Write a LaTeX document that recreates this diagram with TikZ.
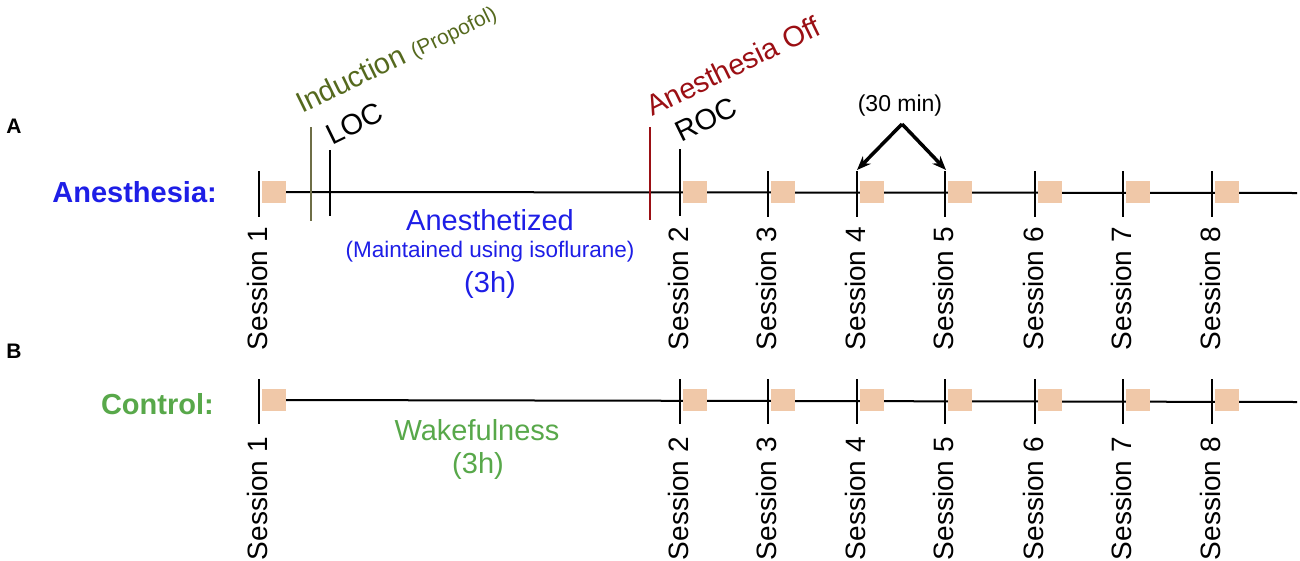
\documentclass[tikz,border=0pt]{standalone}
\usepackage{fontspec}
\setmainfont{Liberation Sans}
\usetikzlibrary{arrows.meta}
\definecolor{anblue}{RGB}{30,30,230}
\definecolor{ctgreen}{RGB}{88,168,74}
\definecolor{indolive}{RGB}{85,105,30}
\definecolor{indline}{RGB}{110,110,70}
\definecolor{offred}{RGB}{155,15,20}
\definecolor{peach}{RGB}{240,200,168}
\tikzset{
  tl/.style={line width=2pt, black},
  tick/.style={line width=2pt, black},
  sbox/.style={fill=peach, draw=none},
  seslab/.style={rotate=90, anchor=base east, inner sep=0pt, font=\fontsize{28}{32}\selectfont},
  biglab/.style={inner sep=0pt, font=\fontsize{29}{33}\selectfont},
  sublab/.style={inner sep=0pt, font=\fontsize{22.5}{26}\selectfont},
  rotlab/.style={rotate=26, anchor=base west, inner sep=0pt, font=\fontsize{29}{33}\selectfont},
  panel/.style={inner sep=0pt, font=\fontsize{21}{25}\selectfont\bfseries},
  rowlab/.style={inner sep=0pt, anchor=east, font=\fontsize{29}{33}\selectfont\bfseries},
  bigarrow/.style={line width=3.5pt, -{Stealth[length=14pt,width=11pt]}}
}
\begin{document}
\begin{tikzpicture}[x=1pt,y=-1pt]
\useasboundingbox (0,0) rectangle (1300,560);
% panel labels
\node[panel] (pA) at (14,126) {A};
\node[panel] (pB) at (14,351) {B};
\node[rowlab, text=anblue] (rA) at (217,192) {Anesthesia:};
\node[rowlab, text=ctgreen] (rB) at (214,404) {Control:};
% ---------- Row A ----------
\coordinate (aStart) at (286,192);
\coordinate (aEnd) at (1297,193);
\draw[tl] (aStart) -- (aEnd);
\foreach \i/\x in {1/259,2/680,3/768,4/857,5/945,6/1035,7/1123,8/1212}{
  \fill[sbox] (\x+3,181) rectangle (\x+27,203);
  \node[seslab] (sa\i) at (\x+8,227) {Session \i};
}
\foreach \i/\x in {1/259,3/768,4/857,5/945,6/1035,7/1123,8/1212}{
  \coordinate (ta\i t) at (\x,171);
  \coordinate (ta\i b) at (\x,217);
  \draw[tick] (ta\i t) -- (ta\i b);
}
\coordinate (ta2t) at (680,149);
\coordinate (ta2b) at (680,216);
\draw[tick] (ta2t) -- (ta2b);
% induction and LOC lines
\coordinate (indT) at (311,127);
\coordinate (indB) at (311,221);
\draw[line width=1.6pt, indline] (indT) -- (indB);
\coordinate (locT) at (330,150);
\coordinate (locB) at (330,216);
\draw[line width=2pt] (locT) -- (locB);
\coordinate (offT) at (650,127);
\coordinate (offB) at (650,220);
\draw[line width=1.6pt, offred] (offT) -- (offB);
% rotated labels
\node[rotlab, text=indolive] (ind) at (302,114) {Induction {\fontsize{21}{25}\selectfont(Propofol)}};
\node[rotlab] (loc) at (332,146) {LOC};
\node[rotlab, text=offred] (off) at (652,117) {Anesthesia Off};
\node[rotlab] (roc) at (681,143) {ROC};
% middle texts A
\node[biglab, text=anblue] (anest) at (490,220) {Anesthetized};
\node[sublab, text=anblue] (maint) at (490,252) {(Maintained using isoflurane)};
\node[biglab, text=anblue] (threeA) at (490,285) {(3h)};
% 30 min arrows
\node[inner sep=0pt, font=\fontsize{23}{27}\selectfont] (thirty) at (900,106) {(30 min)};
\coordinate (apex) at (902,124);
\coordinate (tip4) at (857,170);
\coordinate (tip5) at (946,170);
\draw[bigarrow] (apex) -- (tip4);
\draw[bigarrow] (apex) -- (tip5);
% ---------- Row B ----------
\coordinate (bStart) at (286,400);
\coordinate (bEnd) at (1297,402);
\draw[tl] (bStart) -- (bEnd);
\foreach \i/\x in {1/259,2/680,3/768,4/857,5/945,6/1035,7/1123,8/1212}{
  \fill[sbox] (\x+3,389) rectangle (\x+27,411);
  \coordinate (tb\i t) at (\x,379);
  \coordinate (tb\i b) at (\x,424);
  \draw[tick] (tb\i t) -- (tb\i b);
  \node[seslab] (sb\i) at (\x+8,437) {Session \i};
}
\node[biglab, text=ctgreen] (wake) at (477,430) {Wakefulness};
\node[biglab, text=ctgreen] (threeB) at (478,466) {(3h)};
\end{tikzpicture}
\end{document}
